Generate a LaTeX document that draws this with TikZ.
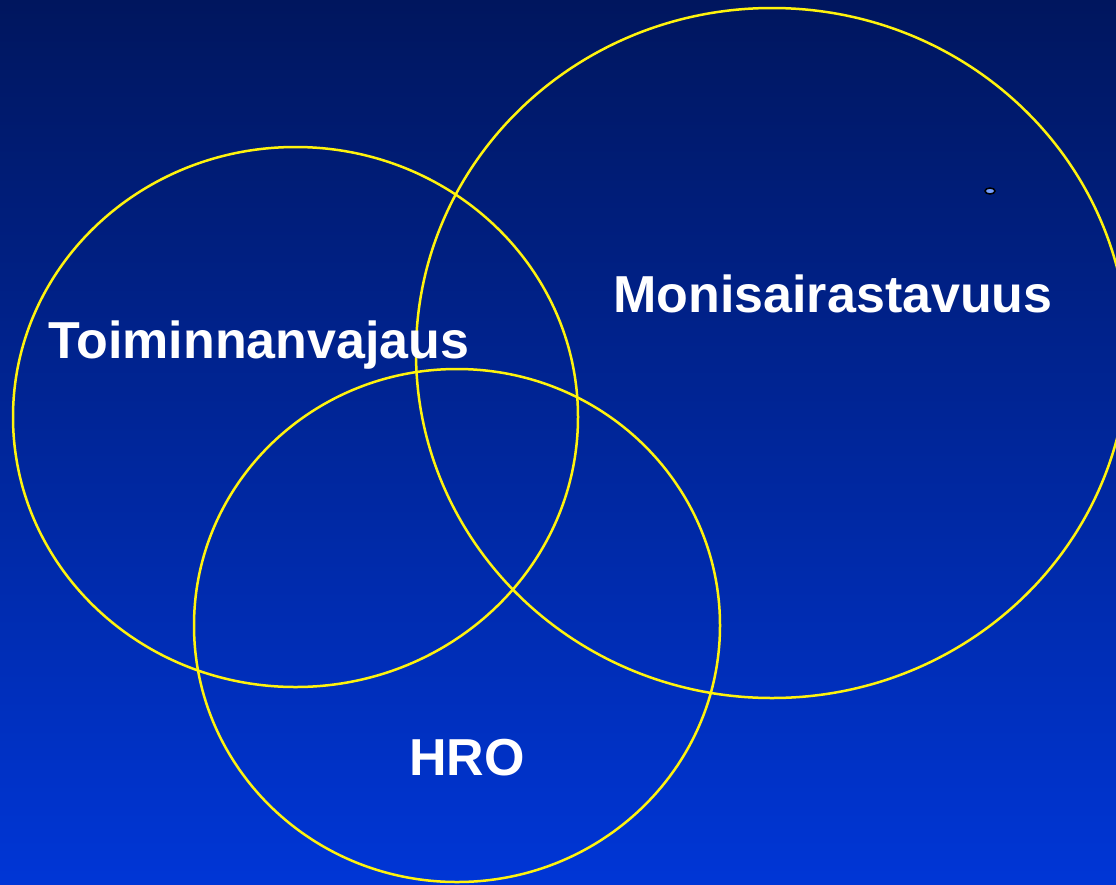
\documentclass[tikz,border=0pt]{standalone}
\usepackage{fontspec}
\setsansfont{Liberation Sans}
\begin{document}
\begin{tikzpicture}[x=1pt,y=-1pt,
  ring/.style={draw=yellow!95!white, line width=2.5pt},
  lbl/.style={text=white, font=\sffamily\bfseries\fontsize{52}{60}\selectfont, inner sep=0pt}]
\shade[top color={rgb,255:red,0;green,22;blue,94}, bottom color={rgb,255:red,0;green,54;blue,214}] (0,0) rectangle (1116,884);
\useasboundingbox (0,0) rectangle (1116,884);
\begin{scope}
\clip (0,0) rectangle (1116,884);
\draw[ring] (295.5,417) ellipse [x radius=282.5, y radius=270];
\draw[ring] (772,353) ellipse [x radius=356, y radius=345];
\draw[ring] (457,625.5) ellipse [x radius=263, y radius=256.5];
\end{scope}
\node[lbl] (t) at (259,345) {Toiminnanvajaus};
\node[lbl] (m) at (833,294) {Monisairastavuus};
\node[lbl] (h) at (467,758) {HRO};
\draw[black, line width=1.5pt, fill={rgb,255:red,120;green,160;blue,255}] (990,191) ellipse [x radius=5, y radius=3];
\end{tikzpicture}
\end{document}
